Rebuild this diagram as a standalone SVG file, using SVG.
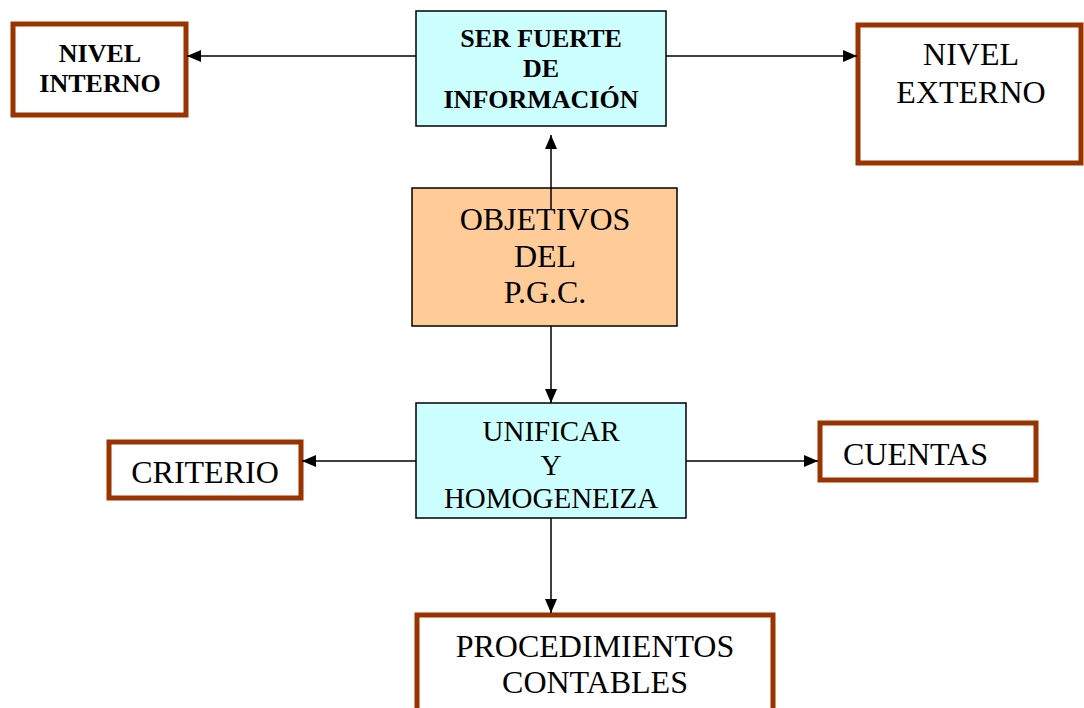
<svg xmlns="http://www.w3.org/2000/svg" width="1084" height="708" viewBox="0 0 1084 708">
<style>
.t{font-family:"Liberation Serif","Times New Roman",serif;fill:#000;text-anchor:middle}
.b{font-weight:bold;font-size:26px}
.r{font-size:32px}
.cyan{fill:#CCFFFF;stroke:#000;stroke-width:1.5}
.peach{fill:#FFCC99;stroke:#000;stroke-width:1.5}
.brown{fill:#fff;stroke:#993300;stroke-width:5}
.c{stroke:#000;stroke-width:1.5;fill:none;marker-end:url(#ah)}
</style>
<defs>
<marker id="ah" markerUnits="userSpaceOnUse" markerWidth="14" markerHeight="12" refX="14" refY="6" orient="auto">
<path d="M0,0 L14,6 L0,12 Z" fill="#000"/>
</marker>
</defs>
<rect width="1084" height="708" fill="#fff"/>
<g id="nivel-interno">
<rect class="brown" x="13" y="24" width="173" height="91"/>
<text class="t b" x="100" y="62">NIVEL</text>
<text class="t b" x="100" y="92">INTERNO</text>
</g>
<g id="ser-fuerte">
<rect class="cyan" x="416" y="11" width="250" height="115"/>
<text class="t b" x="541" y="47">SER FUERTE</text>
<text class="t b" x="541" y="77">DE</text>
<text class="t b" x="541" y="108">INFORMACIÓN</text>
</g>
<g id="nivel-externo">
<rect class="brown" x="858" y="25" width="223" height="138"/>
<text class="t r" x="971" y="65">NIVEL</text>
<text class="t r" x="971" y="103">EXTERNO</text>
</g>
<g id="objetivos">
<rect class="peach" x="412" y="188" width="265" height="138"/>
<text class="t r" x="545" y="230">OBJETIVOS</text>
<text class="t r" x="545" y="267">DEL</text>
<text class="t r" x="545" y="303">P.G.C.</text>
</g>
<g id="unificar">
<rect class="cyan" x="416" y="403" width="270" height="115"/>
<text class="t" style="font-size:29px" x="551" y="441">UNIFICAR</text>
<text class="t" style="font-size:29px" x="551" y="475">Y</text>
<text class="t" style="font-size:29px" x="551" y="508">HOMOGENEIZA</text>
</g>
<g id="criterio">
<rect class="brown" x="109" y="442" width="192" height="56"/>
<text class="t r" x="205" y="483">CRITERIO</text>
</g>
<g id="cuentas">
<rect class="brown" x="820" y="423" width="216" height="57"/>
<text class="t r" x="843" y="465" style="text-anchor:start">CUENTAS</text>
</g>
<g id="procedimientos">
<rect class="brown" x="417" y="615" width="356" height="110"/>
<text class="t r" x="595" y="657">PROCEDIMIENTOS</text>
<text class="t r" x="595" y="693">CONTABLES</text>
</g>
<g id="connectors">
<line class="c" x1="416" y1="56" x2="187" y2="56"/>
<line class="c" x1="666" y1="56" x2="857" y2="56"/>
<line class="c" x1="551" y1="210" x2="551" y2="135"/>
<line class="c" x1="551" y1="326" x2="551" y2="403"/>
<line class="c" x1="416" y1="461" x2="302" y2="461"/>
<line class="c" x1="686" y1="461" x2="818" y2="461"/>
<line class="c" x1="551" y1="518" x2="551" y2="613"/>
</g>
</svg>
